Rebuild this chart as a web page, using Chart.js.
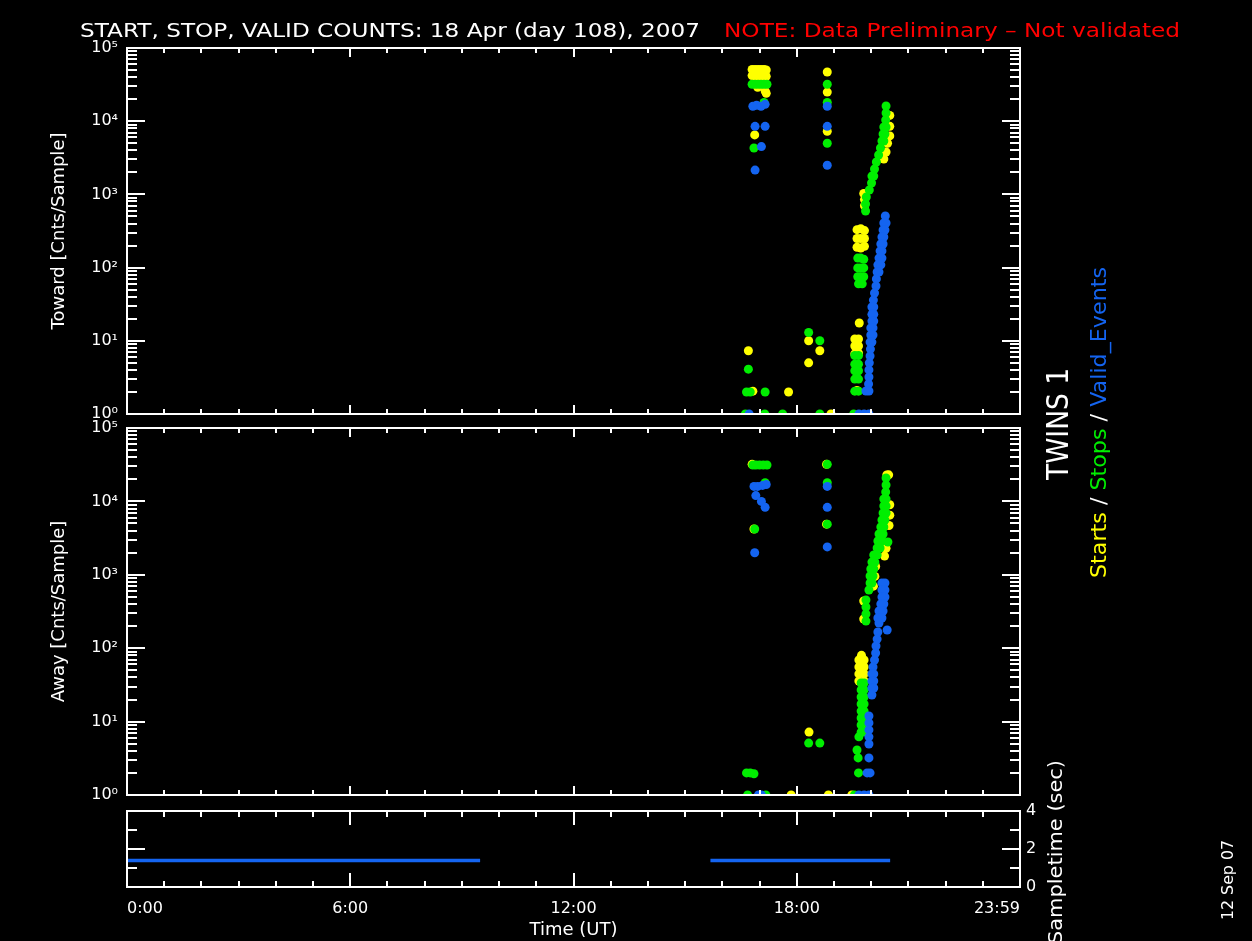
<!DOCTYPE html>
<html>
<head>
<meta charset="utf-8">
<script src="https://cdn.jsdelivr.net/npm/chart.js@4.4.1/dist/chart.umd.min.js"></script>
<style>
  html, body { margin: 0; background: #000; }
  #wrap { position: relative; width: 1252px; height: 941px; background: #000; }
  #wrap canvas { position: absolute; left: 0; top: 0; }
</style>
</head>
<body>
<div id="wrap">
  <canvas id="toward" width="1252" height="941"></canvas>
  <canvas id="away" width="1252" height="941"></canvas>
  <canvas id="sample" width="1252" height="941"></canvas>
</div>
<script>
// ---- data: [hour UT, counts per sample] ----
const towardStarts = [
  [16.80, 51000], [16.88, 51000], [16.96, 51000], [17.04, 51000], [17.12, 51000], [17.18, 50000],
  [16.80, 42000], [16.90, 41000], [17.00, 42000], [17.10, 40000], [17.18, 41000],
  [16.95, 29000], [17.15, 26000], [17.18, 24000],
  [16.87, 6500], [16.70, 7.3], [16.82, 2.05], [17.78, 2.0],
  [18.82, 47000], [18.82, 25000], [18.82, 7300], [18.32, 10], [18.32, 5], [18.62, 7.3], [18.92, 1],
  [20.50, 12000], [20.50, 8500], [20.50, 6300], [20.44, 5000], [20.40, 3800], [20.34, 3050],
  [19.80, 1030], [19.82, 850], [19.82, 700],
  [19.62, 330], [19.72, 340], [19.82, 320], [19.62, 250], [19.72, 250], [19.82, 250],
  [19.62, 190], [19.72, 185], [19.82, 195],
  [19.68, 17.5], [19.56, 10.6], [19.66, 10.6], [19.56, 8.5], [19.66, 8.5], [19.56, 6.6], [19.66, 6.8], [19.62, 2.1]
];
const towardStops = [
  [16.80, 32000], [16.88, 32000], [16.96, 32000], [17.04, 32000], [17.12, 32000], [17.20, 32000],
  [17.12, 18000], [16.85, 4300], [16.70, 4.1], [16.65, 2], [16.75, 2], [17.15, 2],
  [16.62, 1], [17.14, 1], [17.62, 1], [18.62, 1], [19.53, 1],
  [18.32, 13], [18.62, 10],
  [18.82, 32000], [18.82, 18000], [18.82, 5000],
  [20.40, 16140], [20.40, 12940], [20.39, 10380], [20.34, 8330], [20.40, 8330], [20.32, 6680], [20.37, 6680],
  [20.29, 5370], [20.34, 5370], [20.25, 4300], [20.20, 3450], [20.14, 2770], [20.09, 2220],
  [20.02, 1780], [20.07, 1780], [20.01, 1430], [19.95, 1150], [19.87, 921], [19.85, 739], [19.85, 593],
  [19.64, 135], [19.72, 135], [19.80, 130], [19.64, 99], [19.72, 99], [19.80, 99],
  [19.64, 75], [19.72, 75], [19.80, 75], [19.66, 60], [19.76, 60],
  [19.56, 6.3], [19.66, 6.3], [19.56, 4.8], [19.66, 4.8], [19.56, 3.9], [19.66, 3.9],
  [19.56, 3.0], [19.66, 3.0], [19.56, 2.05], [19.66, 2.05]
];
const towardValid = [
  [16.82, 16000], [16.92, 16500], [17.04, 16000], [17.15, 17000], [16.88, 8500], [17.15, 8500],
  [17.05, 4500], [16.88, 2150], [16.72, 1],
  [18.82, 16000], [18.82, 8500], [18.82, 2500],
  [20.38, 507], [20.34, 406], [20.40, 406], [20.32, 326], [20.37, 326], [20.29, 262], [20.34, 262],
  [20.26, 210], [20.32, 210], [20.24, 169], [20.29, 169], [20.21, 135], [20.29, 135],
  [20.18, 109], [20.26, 109], [20.16, 87], [20.21, 87], [20.14, 70], [20.13, 56], [20.09, 45],
  [20.06, 36], [20.02, 29], [20.07, 29], [20.02, 23], [20.07, 23], [20.02, 18.6], [20.07, 18.6],
  [19.99, 15.0], [20.05, 15.0], [19.99, 12.0], [20.05, 12.0], [19.97, 9.6], [20.02, 9.6],
  [19.98, 7.7], [19.97, 6.2], [19.95, 5.0], [19.94, 4.0], [19.94, 3.2], [19.93, 2.57],
  [19.86, 2.06], [19.94, 2.06], [19.67, 1], [19.81, 1], [19.94, 1]
];

const awayStarts = [
  [16.80, 32000], [16.85, 4200], [17.85, 1], [18.85, 1], [19.48, 1], [18.33, 7.2], [18.80, 32000], [18.80, 4900],
  [20.42, 22900], [20.47, 23000], [20.50, 9000], [20.50, 6500], [20.48, 4700], [20.40, 2300], [20.36, 1800],
  [20.12, 1300], [20.10, 950], [20.06, 700],
  [19.80, 440], [19.80, 250],
  [19.74, 80], [19.67, 69], [19.81, 69], [19.67, 55.5], [19.81, 55.5], [19.67, 44.6], [19.81, 44.6],
  [19.67, 35.7], [19.81, 35.7]
];
const awayStops = [
  [16.82, 31300], [16.90, 31300], [17.00, 31300], [17.10, 31300], [17.20, 31300], [17.15, 18000], [16.87, 4200],
  [16.65, 2], [16.75, 2], [16.85, 1.95], [16.68, 1], [17.17, 1],
  [18.32, 5.1], [18.62, 5.1],
  [18.82, 32000], [18.82, 18000], [18.82, 4900],
  [20.40, 20830], [20.40, 16730], [20.39, 13430], [20.34, 10780], [20.40, 10780], [20.34, 8660], [20.40, 8660],
  [20.32, 6950], [20.40, 6950], [20.29, 5580], [20.37, 5580], [20.26, 4480], [20.34, 4480],
  [20.21, 3600], [20.32, 3600], [20.18, 2890], [20.29, 2890], [20.16, 2320], [20.24, 2320],
  [20.07, 1860], [20.16, 1860], [20.02, 1490], [20.10, 1490], [19.99, 1200], [20.07, 1200],
  [19.97, 963], [20.05, 963], [19.97, 773], [20.02, 773], [19.94, 621],
  [20.45, 2800],
  [19.86, 454], [19.86, 364], [19.86, 292], [19.86, 234],
  [19.73, 33.6], [19.81, 33.6], [19.73, 27], [19.81, 27], [19.73, 21.6], [19.81, 21.6],
  [19.73, 17.4], [19.81, 17.4], [19.73, 13.9], [19.81, 13.9], [19.73, 11.2], [19.81, 11.2],
  [19.73, 9.0], [19.81, 9.0], [19.73, 7.2], [19.78, 7.2],
  [19.67, 6.2], [19.62, 4.1], [19.65, 3.2], [19.66, 2.0], [19.55, 1]
];
const awayValid = [
  [16.85, 16000], [16.95, 16000], [17.08, 16500], [17.18, 17000], [16.90, 12000], [17.05, 10000],
  [17.15, 8300], [16.87, 2000], [16.97, 1], [17.05, 1],
  [18.82, 16000], [18.82, 8300], [18.82, 2400],
  [20.29, 773], [20.37, 773], [20.29, 621], [20.37, 621], [20.29, 499], [20.37, 499],
  [20.26, 400], [20.34, 400], [20.21, 321], [20.32, 321], [20.18, 258], [20.29, 258],
  [20.21, 220], [20.43, 177], [20.18, 166], [20.16, 133], [20.13, 107], [20.12, 86],
  [20.09, 69], [20.05, 55.5], [20.02, 44.6], [20.07, 44.6], [20.02, 35.7], [20.07, 35.7],
  [20.02, 28.7], [20.07, 28.7], [20.02, 23.0],
  [19.94, 11.9], [19.94, 9.6], [19.94, 7.7], [19.94, 6.2], [19.94, 4.96], [19.94, 3.2],
  [19.89, 2.0], [19.97, 2.0], [19.67, 1], [19.81, 1], [19.94, 1]
];

// sample time panel (gap = no data)
const sampleHours = [0, 9.49, 12.5, 15.68, 20.51];
const sampleSecs = [1.4, 1.4, null, 1.4, 1.4];

// axis ticks / labels
const decades = [1, 10, 100, 1000, 10000, 100000];
const decadeLabels = ['10\u2070', '10\u00b9', '10\u00b2', '10\u00b3', '10\u2074', '10\u2075'];
const timeTicks = [0, 6, 12, 18, 24];
const timeLabels = ['0:00', '6:00', '12:00', '18:00', '23:59'];
const sampleTicks = [0, 2, 4];

const YELLOW = '#ffff00';
const GREEN = '#00ee00';
const BLUE = '#1464f0';

// plot box on the page
const PLOT_LEFT = 127, PLOT_RIGHT = 1020, PAGE_W = 1252, PAGE_H = 941;

Chart.defaults.color = '#ffffff';
Chart.defaults.font.family = 'DejaVu Sans';

const hourTicks = Array.from({ length: 23 }, (_, i) => i + 1);
const logMinor = decades.slice(0, -1).flatMap(d => [2, 3, 4, 5, 6, 7, 8, 9].map(m => m * d));

/**
 * IDL-style frame: white box with inward ticks on all four sides
 */
const framePlugin = {
    id: 'frame',
    afterDatasetsDraw(chart, args, opts) {
        const { ctx, chartArea: a, scales } = chart;
        const ys = scales[opts.yScale];
        ctx.save();
        ctx.strokeStyle = '#ffffff';
        ctx.lineWidth = 2;
        ctx.strokeRect(a.left, a.top, a.right - a.left, a.bottom - a.top);
        ctx.beginPath();
        hourTicks.forEach(h => {
            const x = Math.round(scales.x.getPixelForValue(h));
            const len = h % 6 === 0 ? opts.xMajor : opts.xMinor;
            ctx.moveTo(x, a.bottom); ctx.lineTo(x, a.bottom - len);
            ctx.moveTo(x, a.top); ctx.lineTo(x, a.top + len);
        });
        const yTick = (v, len) => {
            const y = Math.round(ys.getPixelForValue(v));
            ctx.moveTo(a.left, y); ctx.lineTo(a.left + len, y);
            ctx.moveTo(a.right, y); ctx.lineTo(a.right - len, y);
        };
        opts.yMajorVals.forEach(v => yTick(v, opts.yMajor));
        opts.yMinorVals.forEach(v => yTick(v, opts.yMinor));
        ctx.stroke();
        ctx.restore();
    }
};

// text squeezed/stretched to a measured width; angle -90deg reads bottom to top
function fitText(ctx, parts, x, y, width, font, angle) {
    ctx.save();
    ctx.font = font;
    const full = parts.map(p => p[0]).join('');
    const w = ctx.measureText(full).width;
    ctx.translate(x, y);
    ctx.rotate(angle);
    ctx.scale(width / w, 1);
    ctx.textAlign = 'left';
    ctx.textBaseline = 'alphabetic';
    let cx = 0;
    parts.forEach(([t, c]) => {
        ctx.fillStyle = c;
        ctx.fillText(t, cx, 0);
        cx += ctx.measureText(t).width;
    });
    ctx.restore();
}

const textPlugin = {
    id: 'pageText',
    afterDraw(chart) {
        const ctx = chart.ctx;
        const up = -Math.PI / 2;
        fitText(ctx, [['START, STOP, VALID COUNTS: 18 Apr (day 108), 2007', '#ffffff']], 80, 37, 620, '20px "DejaVu Sans"', 0);
        fitText(ctx, [['NOTE: Data Preliminary \u2013 Not validated', '#ff0000']], 724, 37, 456, '20px "DejaVu Sans"', 0);
        fitText(ctx, [['TWINS 1', '#ffffff']], 1068, 480, 112, '30px "DejaVu Sans"', up);
        fitText(ctx, [['Starts', YELLOW], [' / ', '#ffffff'], ['Stops', GREEN], [' / ', '#ffffff'], ['Valid_Events', BLUE]],
            1106, 578, 311, '21px "DejaVu Sans"', up);
        fitText(ctx, [['Sampletime (sec)', '#ffffff']], 1062, 944, 184, '20px "DejaVu Sans"', up);
        fitText(ctx, [['12 Sep 07', '#ffffff']], 1233, 920, 80, '16px "DejaVu Sans"', up);
    }
};

function points(label, data, color, order) {
    return {
        label, data, order,
        backgroundColor: color,
        borderWidth: 0,
        pointRadius: 4.5,
        pointHoverRadius: 4.5,
        clip: 0
    };
}

/**
 * Counts panel (log scale, 1 .. 1e5)
 */
function countsChart(canvasId, starts, stops, valid, top, bottom, title) {
    return new Chart(document.getElementById(canvasId), {
        type: 'scatter',
        data: {
            datasets: [
                points('Starts', starts, YELLOW, 3),
                points('Stops', stops, GREEN, 2),
                points('Valid_Events', valid, BLUE, 1)
            ]
        },
        options: {
            responsive: false,
            animation: false,
            events: [],
            layout: { autoPadding: false, padding: { left: PLOT_LEFT - 100, right: PAGE_W - PLOT_RIGHT, top, bottom: PAGE_H - bottom } },
            plugins: {
                legend: { display: false },
                tooltip: { enabled: false },
                frame: { yScale: 'y', xMinor: 5, xMajor: 9, yMinor: 10, yMajor: 18, yMajorVals: decades, yMinorVals: logMinor }
            },
            scales: {
                x: { type: 'linear', min: 0, max: 24, display: false },
                y: {
                    type: 'logarithmic', min: 1, max: 100000,
                    afterFit: s => { s.width = 100; },
                    afterBuildTicks: s => { s.ticks = decades.map(v => ({ value: v })); },
                    grid: { display: false, drawTicks: false },
                    border: { display: false },
                    ticks: {
                        padding: 9, autoSkip: false, color: '#ffffff', font: { size: 16 },
                        callback: v => decadeLabels[decades.indexOf(v)]
                    },
                    title: { display: true, text: title, color: '#ffffff', font: { size: 18 }, padding: { top: 22, bottom: 0 } }
                }
            }
        },
        plugins: [framePlugin]
    });
}

countsChart('toward', towardStarts, towardStops, towardValid, 48, 414, 'Toward [Cnts/Sample]');
countsChart('away', awayStarts, awayStops, awayValid, 428, 795, 'Away [Cnts/Sample]');

// sample time panel with the time axis
new Chart(document.getElementById('sample'), {
    type: 'line',
    data: {
        datasets: [{
            label: 'Sampletime',
            data: sampleHours.map((h, i) => ({ x: h, y: sampleSecs[i] })),
            borderColor: BLUE,
            borderWidth: 3.5,
            pointRadius: 0,
            spanGaps: false,
            clip: 0
        }]
    },
    options: {
        responsive: false,
        animation: false,
        events: [],
        layout: { autoPadding: false, padding: { left: PLOT_LEFT, right: PAGE_W - PLOT_RIGHT - 40, top: 811, bottom: 0 } },
        plugins: {
            legend: { display: false },
            tooltip: { enabled: false },
            frame: { yScale: 'y', xMinor: 6, xMajor: 14, yMinor: 10, yMajor: 18, yMajorVals: [2], yMinorVals: [1, 3] }
        },
        scales: {
            x: {
                type: 'linear', min: 0, max: 24, position: 'bottom',
                afterFit: s => { s.height = PAGE_H - 887; },
                afterBuildTicks: s => { s.ticks = timeTicks.map(v => ({ value: v })); },
                grid: { display: false, drawTicks: false },
                border: { display: false },
                ticks: {
                    padding: 12, align: 'inner', maxRotation: 0, autoSkip: false, color: '#ffffff', font: { size: 16 },
                    callback: (v, i) => timeLabels[i]
                },
                title: { display: true, text: 'Time (UT)', color: '#ffffff', font: { size: 18 }, padding: { top: 0, bottom: 0 } }
            },
            y: {
                type: 'linear', position: 'right', min: 0, max: 4,
                afterFit: s => { s.width = 40; },
                afterBuildTicks: s => { s.ticks = sampleTicks.map(v => ({ value: v })); },
                grid: { display: false, drawTicks: false },
                border: { display: false },
                ticks: { padding: 6, autoSkip: false, color: '#ffffff', font: { size: 16 } }
            }
        }
    },
    plugins: [framePlugin, textPlugin]
});
</script>
</body>
</html>
